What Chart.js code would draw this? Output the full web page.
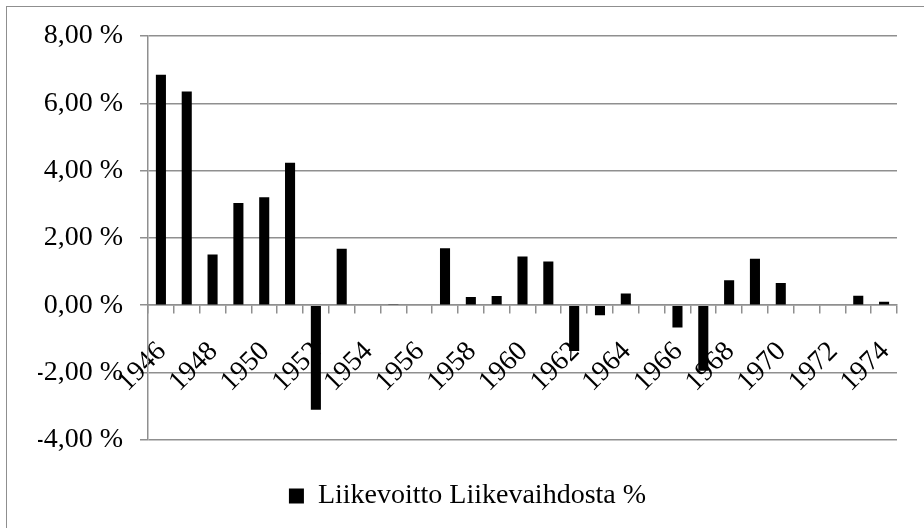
<!DOCTYPE html>
<html>
<head>
<meta charset="utf-8">
<script src="https://cdn.jsdelivr.net/npm/chart.js@4"></script>
<style>
    body { margin: 0; background: #fff; }
    #frame { position: absolute; left: 6px; top: 6px; width: 1000px; height: 600px;
             border-left: 1.5px solid #8f8f8f; border-top: 1.5px solid #8f8f8f; }
    #chartCanvas { position: absolute; left: 0; top: 0; }
</style>
</head>
<body>
<div id="frame"></div>
<canvas id="chartCanvas" width="924" height="528"></canvas>
<script>
const years = [1946, 1947, 1948, 1949, 1950, 1951, 1952, 1953, 1954, 1955,
    1956, 1957, 1958, 1959, 1960, 1961, 1962, 1963, 1964, 1965,
    1966, 1967, 1968, 1969, 1970, 1971, 1972, 1973, 1974];
const profitPct = [6.85, 6.35, 1.51, 3.04, 3.21, 4.23, -3.11, 1.68, 0, 0.01,
    0, 1.69, 0.24, 0.27, 1.45, 1.30, -1.36, -0.30, 0.35, 0.02,
    -0.66, -1.95, 0.74, 1.38, 0.66, 0, 0, 0.28, 0.10];
const seriesLabel = 'Liikevoitto Liikevaihdosta %';

const gridGray = '#8f8f8f';
const serif = 'Liberation Serif';

window.onload = () => {
    const ctx = document.getElementById('chartCanvas').getContext('2d');
    new Chart(ctx, {
        type: 'bar',
        data: {
            labels: years,
            datasets: [{
                label: seriesLabel,
                data: profitPct,
                backgroundColor: '#000',
                borderWidth: 0,
                barPercentage: 0.39,
                categoryPercentage: 1
            }]
        },
        options: {
            responsive: false,
            animation: false,
            layout: { padding: { left: 38, top: 36, right: 27, bottom: 8 } },
            scales: {
                x: {
                    position: { y: 0 },
                    // long tick length pushes the labels down, the dash keeps the visible tick short
                    grid: { drawOnChartArea: false, offset: true, tickLength: 30, tickBorderDash: [8, 200],
                            color: gridGray, lineWidth: 1.5 },
                    border: { color: gridGray, width: 1.5 },
                    ticks: {
                        autoSkip: false,
                        maxRotation: 45,
                        minRotation: 45,
                        padding: 0,
                        labelOffset: 1,
                        color: '#000',
                        font: { family: serif, size: 28 },
                        callback: (v, i) => (i % 2 === 0 ? years[i] : '')
                    }
                },
                y: {
                    min: -4,
                    max: 8,
                    afterFit: s => { s.width = 110; },
                    grid: { color: gridGray, lineWidth: 1.5, tickLength: 25, tickBorderDash: [0, 17, 8, 200] },
                    border: { color: gridGray, width: 1.5 },
                    ticks: {
                        stepSize: 2,
                        padding: 0,
                        color: '#000',
                        font: { family: serif, size: 28 },
                        callback: v => v.toFixed(2).replace('.', ',') + ' %'
                    }
                }
            },
            plugins: {
                tooltip: { enabled: false },
                legend: {
                    position: 'bottom',
                    // empty title only used as a spacer above the legend item
                    title: { display: true, text: '', font: { size: 1 }, padding: { top: 31, bottom: 0 } },
                    labels: {
                        boxWidth: 15,
                        boxHeight: 15,
                        color: '#000',
                        font: { family: serif, size: 28 }
                    }
                }
            }
        }
    });
};
</script>
</body>
</html>
